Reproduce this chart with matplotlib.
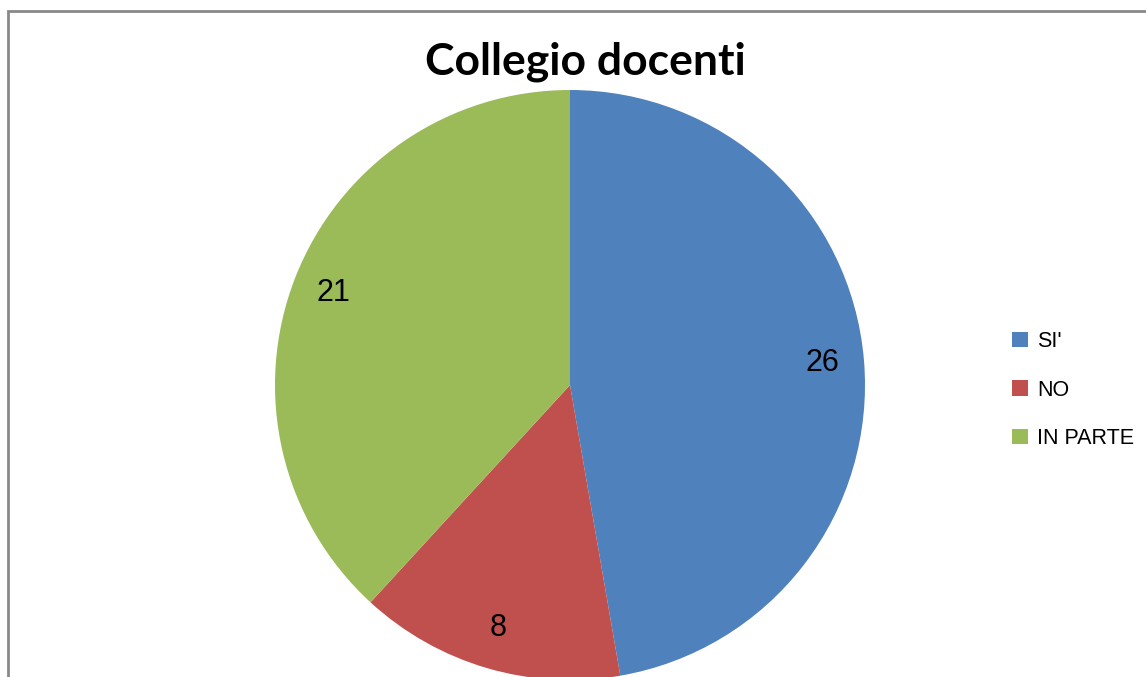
import matplotlib.pyplot as plt
from matplotlib.patches import Rectangle

categories = ["SI'", "NO", "IN PARTE"]
values = [26, 8, 21]
colors = ["#4F81BD", "#C0504D", "#9BBB59"]
title = "Collegio docenti"

W, H = 1146, 677
fig = plt.figure(figsize=(W / 100, H / 100), dpi=100)
ax = fig.add_axes([0, 0, 1, 1])

# chart frame (cut off at right/bottom like the source)
ax.add_patch(Rectangle((8, -20), W + 40, H - 11 + 20, fill=False,
                       edgecolor="#898989", linewidth=2))

wedges, texts, autotexts = ax.pie(
    values, colors=colors, startangle=90, counterclock=False,
    center=(570, H - 385), radius=295, frame=True,
    autopct=lambda p: "%d" % round(p * sum(values) / 100),
    pctdistance=0.86, textprops={'fontsize': 22, 'family': 'Liberation Sans'})
ax.set_xlim(0, W)
ax.set_ylim(0, H)
ax.set_aspect('equal')
ax.axis('off')

ax.text(585, H - 62, title, ha='center', va='center', fontsize=32,
        fontweight='bold', family='Lato')

leg = ax.legend(wedges, categories, loc='center left',
                bbox_to_anchor=(1003 / W, 1 - 390 / H), frameon=False,
                prop={'family': 'Liberation Sans', 'size': 15.5},
                handlelength=0.75, handleheight=0.75, handletextpad=0.45,
                labelspacing=1.28, borderaxespad=0)

fig.savefig("out.png", dpi=100)
